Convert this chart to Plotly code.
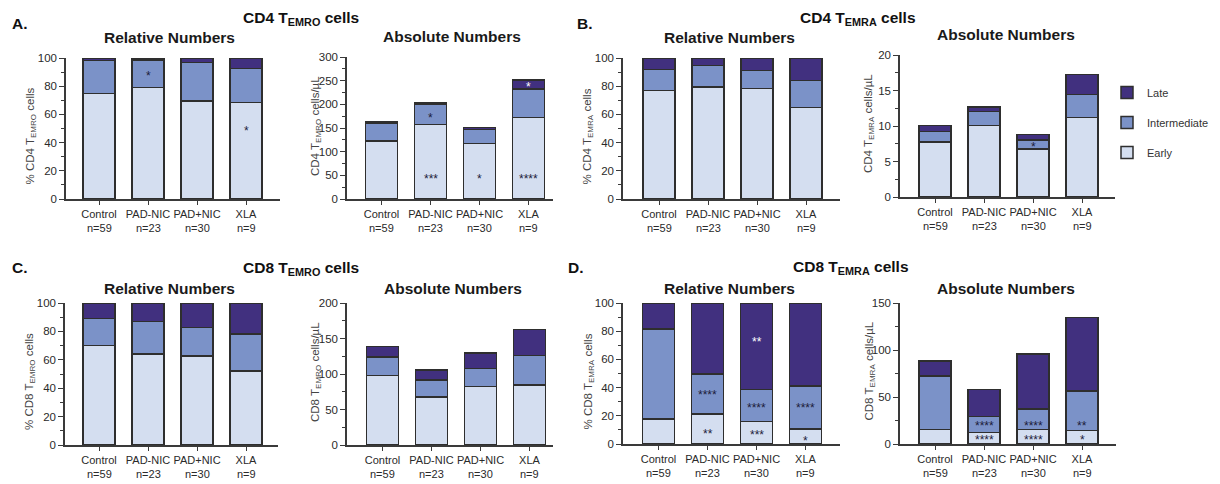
import plotly.graph_objects as go

# The page body has an 8px margin, so the figure is drawn 8px in from the top-left
OX, OY = 8, 8
W, H = 1220 - OX, 484 - OY

groups = ["Control", "PAD-NIC", "PAD+NIC", "XLA"]
n_labels = ["n=59", "n=23", "n=30", "n=9"]
stages = ["Early", "Intermediate", "Late"]
stage_colors = {"Early": "#d4def0", "Intermediate": "#7b92c8", "Late": "#41307f"}
legend_rank = {"Late": 1, "Intermediate": 2, "Early": 3}

# Panel A: CD4 TEMRO
a_rel_early = [75.0, 79.0, 69.6, 68.6]
a_rel_inter = [23.1, 19.6, 27.3, 24.1]
a_rel_late = [1.9, 1.4, 3.1, 7.3]
a_abs_early = [122.5, 157.0, 117.6, 172.5]
a_abs_inter = [38.1, 43.0, 28.9, 59.9]
a_abs_late = [3.4, 3.0, 4.9, 19.0]
# Panel B: CD4 TEMRA
b_rel_early = [77.1, 79.5, 78.3, 64.9]
b_rel_inter = [14.9, 15.3, 13.0, 19.1]
b_rel_late = [8.0, 5.2, 8.7, 16.0]
b_abs_early = [7.73, 10.07, 6.79, 11.19]
b_abs_inter = [1.50, 1.97, 1.27, 3.28]
b_abs_late = [0.87, 0.66, 0.74, 2.81]
# Panel C: CD8 TEMRO
c_rel_early = [70.1, 64.0, 62.8, 52.2]
c_rel_inter = [19.1, 23.1, 20.0, 25.9]
c_rel_late = [10.8, 12.9, 17.2, 21.9]
c_abs_early = [97.9, 67.3, 82.4, 84.2]
c_abs_inter = [25.9, 24.5, 25.4, 41.9]
c_abs_late = [15.0, 14.1, 21.6, 36.3]
# Panel D: CD8 TEMRA
d_rel_early = [17.6, 21.2, 16.0, 10.6]
d_rel_inter = [63.8, 28.4, 22.8, 30.6]
d_rel_late = [18.6, 50.4, 61.2, 58.8]
d_abs_early = [15.2, 12.4, 15.2, 14.5]
d_abs_inter = [57.2, 16.9, 21.9, 42.0]
d_abs_late = [15.8, 28.9, 58.6, 78.0]

panel_data = [
    (a_rel_early, a_rel_inter, a_rel_late),
    (a_abs_early, a_abs_inter, a_abs_late),
    (b_rel_early, b_rel_inter, b_rel_late),
    (b_abs_early, b_abs_inter, b_abs_late),
    (c_rel_early, c_rel_inter, c_rel_late),
    (c_abs_early, c_abs_inter, c_abs_late),
    (d_rel_early, d_rel_inter, d_rel_late),
    (d_abs_early, d_abs_inter, d_abs_late),
]

y_titles = [
    "% CD4 T<sub>EMRO</sub> cells", "CD4 T<sub>EMRO</sub> cells/µL",
    "% CD4 T<sub>EMRA</sub> cells", "CD4 T<sub>EMRA</sub> cells/µL",
    "% CD8 T<sub>EMRO</sub> cells", "CD8 T<sub>EMRO</sub> cells/µL",
    "% CD8 T<sub>EMRA</sub> cells", "CD8 T<sub>EMRA</sub> cells/µL",
]
sub_titles = ["Relative Numbers", "Absolute Numbers"] * 4
y_max = [100, 300, 100, 20, 100, 200, 100, 150]
y_dtick = [20, 50, 20, 5, 20, 50, 20, 50]
y_minor = [10, 25, 10, 2.5, 10, 25, 10, 25]

# significance marks: panel, group index, y value, text, white?
stars_panel = [0, 0, 1, 1, 1, 1, 1, 3, 6, 6, 6, 6, 6, 6, 6, 7, 7, 7, 7, 7, 7]
stars_group = [1, 3, 1, 1, 2, 3, 3, 2, 1, 1, 2, 2, 2, 3, 3, 1, 1, 2, 2, 3, 3]
stars_y = [89.4, 50.5, 178, 49, 49, 49, 242, 7.45, 36.7, 9.0, 74.8, 27.8, 8.2, 27.8, 4.2,
           22.2, 7.0, 22.2, 7.0, 22.2, 7.0]
stars_text = ["*", "*", "*", "***", "*", "****", "*", "*", "****", "**", "**", "****", "***",
              "****", "*", "****", "****", "****", "****", "**", "*"]
stars_white = [False, False, False, False, False, False, True, False, False, False, True, False,
               False, False, False, False, False, False, False, False, False]

block_titles = ["CD4 T<sub>EMRO</sub> cells", "CD4 T<sub>EMRA</sub> cells",
                "CD8 T<sub>EMRO</sub> cells", "CD8 T<sub>EMRA</sub> cells"]
block_letters = ["A.", "B.", "C.", "D."]

# ---- layout geometry in screen pixels ----
# (y-axis x position, x-axis end, first bar centre, axis bottom, axis top)
geom = [
    (66, 280, 99, 199, 58),
    (347, 553, 381.5, 199, 57),
    (623, 840, 659, 199, 58),
    (900, 1115, 935, 197, 55),
    (65, 278, 99, 445, 303),
    (347, 553, 382.5, 445, 303),
    (623, 840, 658.5, 444, 303),
    (900, 1116, 935, 444, 303),
]
SP = 49.0
BAR_W = 0.65
FONT = "Arial, Liberation Sans, sans-serif"
AXC = "#3a3a3a"
TICKF = dict(size=11, color="#2a2a2a")


def px(x):
    return (x - OX) / W


def py(y):
    return 1 - (y - OY) / H


fig = go.Figure()
layout = dict(
    width=W, height=H, margin=dict(l=0, r=0, t=0, b=0, autoexpand=False),
    paper_bgcolor="white", plot_bgcolor="white",
    barmode="stack", font=dict(family=FONT, color="#222"),
    showlegend=True,
)
annotations = []
xs = list(range(len(groups)))

for k, (x0, x1, c0, yb, yt) in enumerate(geom):
    idx = "" if k == 0 else str(k + 1)
    xa, ya = "x" + idx, "y" + idx
    for s, vals in zip(stages, panel_data[k]):
        fig.add_trace(go.Bar(
            x=xs, y=vals, name=s, xaxis=xa, yaxis=ya, width=BAR_W,
            marker=dict(color=stage_colors[s], line=dict(color="#2e2e2e", width=1.5)),
            legendgroup=s, legendrank=legend_rank[s], showlegend=(k == 3),
            hoverinfo="skip",
        ))
    r0 = (x0 - c0) / SP
    r1 = (x1 - c0) / SP
    layout["xaxis" + idx] = dict(
        domain=[px(x0), px(x1)], range=[r0, r1], anchor=ya, automargin=False,
        showline=True, linecolor=AXC, linewidth=1.5, showgrid=False, zeroline=False,
        ticks="outside", ticklen=4, tickwidth=1.3, tickcolor=AXC, tickangle=0,
        tickvals=xs, ticktext=groups, tickfont=TICKF,
        fixedrange=True,
    )
    layout["yaxis" + idx] = dict(
        domain=[py(yb), py(yt)], range=[0, y_max[k]], anchor=xa, automargin=False,
        showline=True, linecolor=AXC, linewidth=1.5, showgrid=False, zeroline=False,
        ticks="outside", ticklen=5, tickwidth=1.3, tickcolor=AXC, dtick=y_dtick[k],
        tickfont=dict(size=11.5, color="#2a2a2a"),
        minor=dict(ticks="outside", ticklen=3, tickwidth=1, tickcolor=AXC, dtick=y_minor[k]),
        fixedrange=True,
    )
    # n labels
    n_y = yb + 29 if k < 4 else yb + 28.5
    for i, nl in enumerate(n_labels):
        annotations.append(dict(
            x=i, y=py(n_y), xref=xa, yref="paper", text=nl, showarrow=False,
            font=TICKF, xanchor="center", yanchor="middle"))
    # y-axis title
    rel = (k % 2 == 0)
    ty = (yb + yt) / 2 + (8 if rel else -2)
    annotations.append(dict(
        x=px(x0 - 35 if rel else x0 - 31), y=py(ty), xref="paper", yref="paper",
        text=y_titles[k], textangle=-90, showarrow=False,
        font=dict(size=11.5, color="#444"), xanchor="center", yanchor="middle"))
    # panel subtitle
    title_y = yt - 21 if k < 4 else yt - 15
    annotations.append(dict(
        x=px(c0 + 1.5 * SP - 3), y=py(title_y), xref="paper", yref="paper",
        text="<b>" + sub_titles[k] + "</b>", showarrow=False,
        font=dict(size=15.5, color="#1a1a1a"), xanchor="center", yanchor="middle"))

# significance stars
for p, g, yv, t, wht in zip(stars_panel, stars_group, stars_y, stars_text, stars_white):
    idx = "" if p == 0 else str(p + 1)
    annotations.append(dict(
        x=g, y=yv, xref="x" + idx, yref="y" + idx, text=t, showarrow=False,
        font=dict(size=12, color="white" if wht else "#1d1d3a"),
        xanchor="center", yanchor="middle", yshift=-3))

# block titles and letters
block_title_pos = [(301, 18), (858, 18), (301, 268), (851, 267)]
block_letter_pos = [(10, 23), (575, 23), (10, 267), (566, 267)]
for t, (bx, by) in zip(block_titles, block_title_pos):
    annotations.append(dict(
        x=px(bx), y=py(by), xref="paper", yref="paper", text="<b>" + t + "</b>",
        showarrow=False, font=dict(size=15.5, color="#111"), xanchor="center", yanchor="middle"))
for t, (bx, by) in zip(block_letters, block_letter_pos):
    annotations.append(dict(
        x=px(bx), y=py(by), xref="paper", yref="paper", text="<b>" + t + "</b>",
        showarrow=False, font=dict(size=15.5, color="#111"), xanchor="left", yanchor="middle"))

layout["annotations"] = annotations
layout["legend"] = dict(
    x=px(1107), y=py(78), xanchor="left", yanchor="top",
    traceorder="grouped", tracegroupgap=11,
    font=dict(size=11, color="#333"), bgcolor="rgba(0,0,0,0)",
    itemclick=False, itemdoubleclick=False,
)
fig.update_layout(**layout)
fig.write_html("out.html")
